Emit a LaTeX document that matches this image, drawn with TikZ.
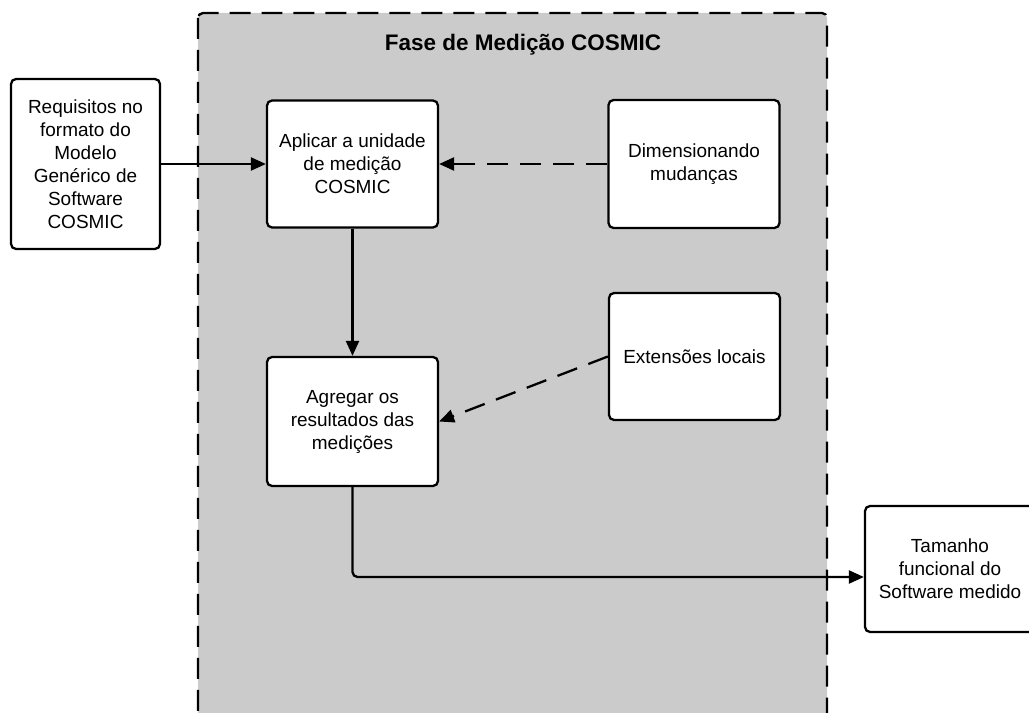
\documentclass[tikz,border=0pt]{standalone}
\usepackage{fontspec}
\setmainfont{Liberation Sans}
\usepackage{xcolor}
\usepackage{tikz}
\usetikzlibrary{arrows.meta}

\definecolor{phasegray}{HTML}{CBCBCB}

\tikzset{
    procbox/.style={draw, fill=white, line width=1.3pt, rounded corners=0.1cm,
        align=center, inner sep=0pt, font=\fontsize{10.8}{13.1}\selectfont},
    conn/.style={line width=1.3pt, -{Triangle[length=0.3cm, width=0.26cm]}},
    dashconn/.style={conn, dash pattern=on 0.42cm off 0.24cm}
}

\begin{document}
\begin{tikzpicture}[x=0.02cm, y=-0.02cm]

    % Page frame
    \useasboundingbox (0,0) rectangle (1029,713);

    % COSMIC measurement phase (runs past the bottom edge)
    \draw[fill=phasegray, line width=1.3pt, rounded corners=0.1cm,
        dash pattern=on 0.42cm off 0.22cm] (198,13) rectangle (827,760);
    \node[font=\bfseries\fontsize{12.8}{15}\selectfont] (title) at (523,45)
        {Fase de Medição COSMIC};

    % Boxes
    \node[procbox, minimum width=2.98cm, minimum height=3.4cm] (req) at (85.5,164)
        {Requisitos no\\formato do\\Modelo\\Genérico de\\Software\\COSMIC};
    \node[procbox, minimum width=3.42cm, minimum height=2.54cm] (apl) at (352.5,164)
        {Aplicar a unidade\\de medição\\COSMIC};
    \node[procbox, minimum width=3.42cm, minimum height=2.56cm] (dim) at (694,164)
        {Dimensionando\\mudanças};
    \node[procbox, minimum width=3.42cm, minimum height=2.54cm] (ext) at (694.5,356.5)
        {Extensões locais};
    \node[procbox, minimum width=3.42cm, minimum height=2.58cm] (agr) at (352.5,421.5)
        {Agregar os\\resultados das\\medições};
    \node[procbox, minimum width=3.4cm, minimum height=2.52cm] (tam) at (950,569)
        {Tamanho\\funcional do\\Software medido};

    % Connectors
    \draw[conn] (req.east) -- (apl.west);
    \draw[dashconn] (dim.west) -- (apl.east);
    \draw[conn] (apl.south) -- (agr.north);
    \draw[dashconn] (ext.west) -- (agr.east);
    \draw[conn, rounded corners=0.1cm] (agr.south) |- ([yshift=-0.16cm]tam.west);

\end{tikzpicture}
\end{document}
